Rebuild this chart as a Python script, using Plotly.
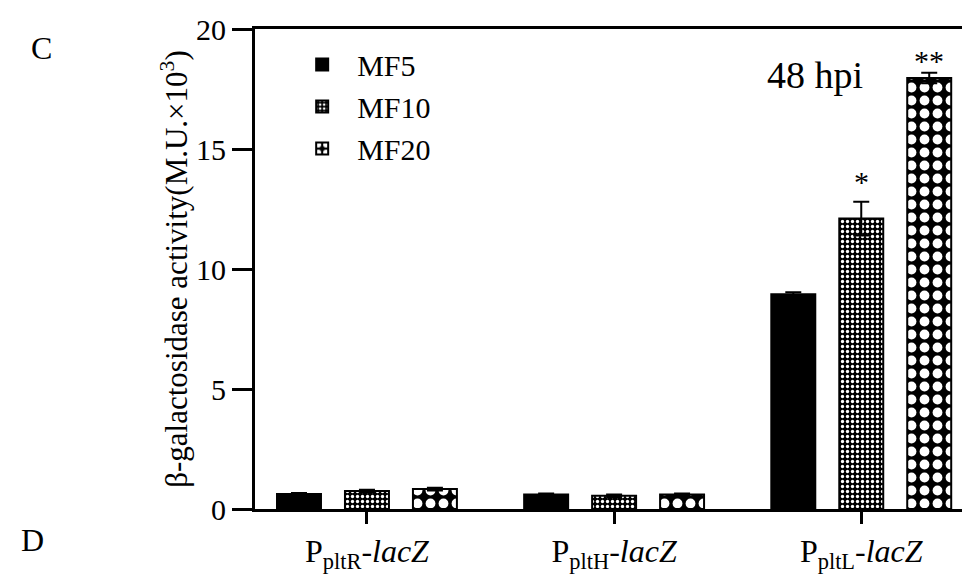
import plotly.graph_objects as go

categories = ["P<sub>pltR</sub>-<i>lacZ</i>", "P<sub>pltH</sub>-<i>lacZ</i>", "P<sub>pltL</sub>-<i>lacZ</i>"]
series_names = ["MF5", "MF10", "MF20"]
mf5 = [0.62, 0.60, 8.95]
mf10 = [0.75, 0.55, 12.1]
mf20 = [0.83, 0.60, 17.96]
mf5_err = [0.05, 0.05, 0.08]
mf10_err = [0.05, 0.05, 0.7]
mf20_err = [0.06, 0.05, 0.22]
signif_mf10 = ["", "", "*"]
signif_mf20 = ["", "", "**"]
y_ticks = [0, 5, 10, 15, 20]

FONT = "Liberation Serif, Times New Roman, serif"
xpos = list(range(len(categories)))
bargap = 0.175
bargroupgap = 0.353
slot = (1 - bargap) / 3

patterns = [
    dict(shape=""),
    dict(shape=".", fgcolor="white", bgcolor="black", size=5, solidity=0.35, fgopacity=1),
    dict(shape=".", fgcolor="white", bgcolor="black", size=13, solidity=0.45, fgopacity=1),
]
values = [mf5, mf10, mf20]
errs = [mf5_err, mf10_err, mf20_err]

fig = go.Figure()
for name, v, e, p in zip(series_names, values, errs, patterns):
    fig.add_trace(go.Bar(
        x=xpos, y=v, name=name,
        marker=dict(color="black", line=dict(color="black", width=2), pattern=p),
        error_y=dict(type="data", array=e, visible=True, color="black", thickness=2, width=8),
    ))

annotations = []
for i, (s, v, e) in enumerate(zip(signif_mf10, mf10, mf10_err)):
    if s:
        annotations.append(dict(x=xpos[i], y=v + e, text=s, showarrow=False, yanchor="bottom",
                                yshift=2, font=dict(family=FONT, size=30, color="black")))
for i, (s, v, e) in enumerate(zip(signif_mf20, mf20, mf20_err)):
    if s:
        annotations.append(dict(x=xpos[i] + slot, y=v + e, text=s, showarrow=False, yanchor="bottom",
                                yshift=-6, font=dict(family=FONT, size=30, color="black")))

# figure-level labels (paper coords are relative to the plot area: 715 x 480 px)
annotations += [
    dict(x=0.783, y=(509 - 75) / 480, xref="paper", yref="paper", text="48 hpi", showarrow=False,
         font=dict(family=FONT, size=38, color="black"), xanchor="center", yanchor="middle"),
    dict(x=(42 - 255) / 715, y=(509 - 48) / 480, xref="paper", yref="paper", text="C",
         showarrow=False, font=dict(family=FONT, size=32), xanchor="center", yanchor="middle"),
    dict(x=(32 - 255) / 715, y=(509 - 540) / 480, xref="paper", yref="paper", text="D",
         showarrow=False, font=dict(family=FONT, size=32), xanchor="center", yanchor="middle"),
]

fig.update_layout(
    width=970, height=582,
    margin=dict(l=247, r=8, t=21, b=81),
    paper_bgcolor="white", plot_bgcolor="white",
    barmode="group", bargap=bargap, bargroupgap=bargroupgap,
    font=dict(family=FONT, color="black"),
    showlegend=True,
    legend=dict(x=0.045, y=0.98, xanchor="left", yanchor="top", font=dict(family=FONT, size=30),
                bgcolor="rgba(0,0,0,0)", itemwidth=60, tracegroupgap=0),
    annotations=annotations,
    xaxis=dict(range=[-0.453, 2.44], tickvals=xpos, ticktext=categories, showline=True,
               linecolor="black", linewidth=3, mirror=True, ticks="outside", ticklen=12,
               tickwidth=3, tickcolor="black", tickfont=dict(family=FONT, size=32), showgrid=False,
               zeroline=False, automargin=False),
    yaxis=dict(range=[0, 20], tickvals=y_ticks, showline=True, linecolor="black", linewidth=3,
               ticks="outside", ticklen=20, tickwidth=3, tickcolor="black",
               tickfont=dict(family=FONT, size=30), showgrid=False, zeroline=False, automargin=False,
               title=dict(text="β-galactosidase activity(M.U.×10<sup>3</sup>)",
                          font=dict(family=FONT, size=31), standoff=0)),
)

fig.write_html("out.html")
